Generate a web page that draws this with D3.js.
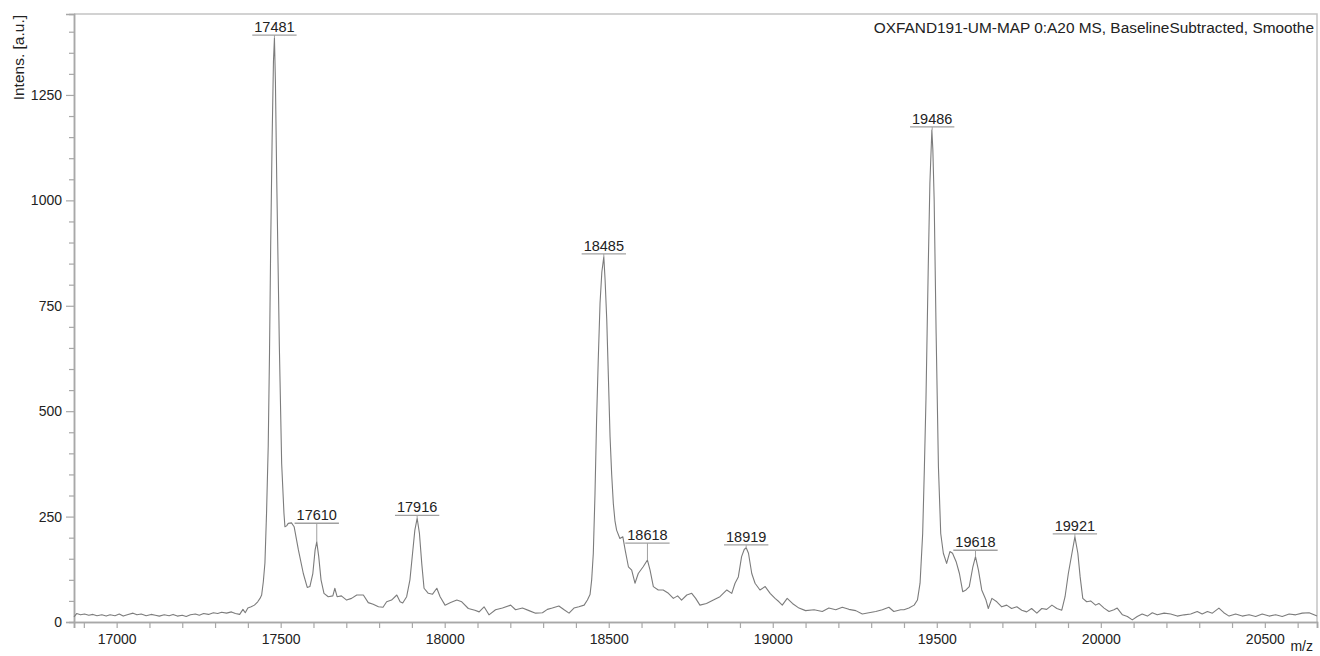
<!DOCTYPE html>
<html>
<head>
<meta charset="utf-8">
<script src="https://cdn.jsdelivr.net/npm/d3@7"></script>
<style>
  body { margin: 0; background: #fff; }
  svg text { font-family: "Liberation Sans", Arial, sans-serif; fill: #222; }
</style>
</head>
<body>
<div id="chart"></div>
<script>
// spectrum: m/z and intensity [a.u.]
const mz = [
  16870, 16878, 16890, 16902, 16915, 16928, 16940, 16955, 16968, 16980, 16995, 17008, 17020, 17035,
  17050, 17062, 17075, 17090, 17105, 17118, 17130, 17145, 17160, 17172, 17185, 17200, 17212, 17225,
  17240, 17252, 17265, 17280, 17295, 17308, 17320, 17335, 17350, 17362, 17375, 17385, 17392, 17400,
  17410, 17420, 17430, 17437, 17442, 17447, 17452, 17457, 17462, 17466, 17469.5, 17474, 17478, 17481,
  17484, 17488, 17492, 17496, 17503, 17510, 17513, 17518, 17523, 17533, 17541, 17554, 17569, 17581,
  17589, 17598, 17605, 17610, 17616, 17623, 17632, 17645, 17659, 17665, 17672, 17685, 17701, 17716,
  17732, 17752, 17767, 17782, 17798, 17812, 17823, 17838, 17854, 17864, 17872, 17884, 17894, 17902,
  17909, 17916, 17923, 17930, 17937, 17950, 17963, 17976, 17986, 18001, 18018, 18037, 18052, 18072,
  18092, 18105, 18120, 18135, 18155, 18176, 18201, 18216, 18237, 18257, 18277, 18298, 18313, 18328,
  18348, 18364, 18379, 18394, 18409, 18425, 18435, 18443, 18448, 18453, 18458, 18463, 18468, 18473.5,
  18479, 18485, 18489, 18494, 18499, 18504, 18509, 18514, 18519, 18524, 18534, 18543, 18550, 18560,
  18570, 18580, 18590, 18605, 18618, 18626, 18636, 18651, 18666, 18682, 18697, 18710, 18722, 18738,
  18753, 18765, 18778, 18798, 18819, 18839, 18860, 18875, 18885, 18895, 18905, 18913, 18919, 18926,
  18936, 18946, 18961, 18977, 18992, 19007, 19019, 19029, 19044, 19060, 19080, 19100, 19126, 19151,
  19171, 19192, 19212, 19232, 19253, 19273, 19293, 19314, 19334, 19354, 19369, 19390, 19400, 19415,
  19431, 19441, 19449, 19457, 19462, 19467, 19474, 19479, 19485, 19488, 19492, 19498, 19505, 19512,
  19520, 19530, 19540, 19548, 19559, 19569, 19579, 19589, 19599, 19610, 19618, 19627, 19637, 19650,
  19657, 19668, 19683, 19698, 19713, 19728, 19744, 19759, 19774, 19789, 19805, 19820, 19835, 19851,
  19866, 19881, 19891, 19901, 19912, 19921, 19930, 19937, 19945, 19957, 19969, 19984, 19994, 20010,
  20025, 20040, 20050, 20066, 20081, 20096, 20111, 20126, 20142, 20157, 20172, 20193, 20213, 20233,
  20254, 20274, 20294, 20309, 20325, 20340, 20360, 20375, 20391, 20411, 20431, 20452, 20472, 20492,
  20513, 20533, 20553, 20574, 20594, 20614, 20635, 20650, 20659
];
const intens = [
  12, 20, 17, 19, 16, 18, 15, 17, 14, 17, 15, 19, 14, 18,
  21, 17, 19, 15, 18, 16, 14, 17, 15, 18, 14, 16, 13, 17,
  19, 16, 20, 18, 22, 20, 23, 21, 24, 20, 18, 30, 22, 33,
  36, 40, 48, 56, 64, 95, 140, 260, 416, 640, 890, 1150, 1330, 1385,
  1280, 1048, 850, 653, 376, 258, 226, 228, 234, 235, 226, 171, 115, 82,
  84, 115, 171, 190, 155, 100, 68, 60, 62, 80, 60, 62, 52, 56,
  64, 64, 46, 42, 36, 35, 48, 52, 64, 48, 45, 60, 100, 163,
  218, 246, 210, 139, 80, 68, 66, 80, 60, 40, 46, 52, 48, 32,
  28, 24, 36, 17, 29, 33, 40, 29, 33, 27, 21, 22, 30, 33,
  38, 29, 21, 33, 36, 40, 52, 65, 100, 163, 300, 479, 620, 756,
  830, 866, 810, 716, 580, 440, 350, 281, 240, 218, 198, 202, 171, 131,
  123, 92, 115, 131, 147, 123, 84, 76, 76, 68, 56, 62, 52, 64,
  68, 56, 40, 44, 52, 60, 76, 68, 92, 107, 155, 172, 176, 163,
  115, 92, 76, 84, 68, 56, 48, 40, 56, 44, 33, 27, 29, 25,
  33, 29, 35, 30, 27, 19, 22, 25, 29, 35, 25, 29, 29, 33,
  40, 52, 92, 210, 360, 527, 843, 1041, 1167, 1120, 1001, 685, 368, 210,
  163, 139, 167, 163, 143, 115, 72, 76, 84, 131, 155, 123, 76, 52,
  32, 56, 48, 36, 40, 32, 36, 28, 24, 32, 21, 32, 30, 40,
  32, 28, 60, 115, 163, 202, 163, 107, 56, 48, 50, 40, 44, 33,
  25, 29, 33, 17, 13, 5, 13, 19, 14, 22, 17, 21, 19, 14,
  17, 19, 25, 19, 25, 21, 33, 22, 14, 19, 14, 17, 13, 19,
  14, 17, 13, 19, 17, 21, 22, 17, 14
];

// annotated peaks
const peakMz = [17481, 17610, 17916, 18485, 18618, 18919, 19486, 19618, 19921];
const peakIntens = [1385, 190, 246, 866, 147, 176, 1167, 155, 202];

const yMajor = [0, 250, 500, 750, 1000, 1250];
const xMajor = [17000, 17500, 18000, 18500, 19000, 19500, 20000, 20500];
const title = "OXFAND191-UM-MAP 0:A20 MS, BaselineSubtracted, Smoothe";

const W = 1320, H = 656;
const margin = { top: 14, right: 3, bottom: 34, left: 74 };
const axisColor = "#a8a8a8";

const svg = d3.select("#chart").append("svg").attr("width", W).attr("height", H);

const x = d3.scaleLinear().domain([16870, 20659]).range([margin.left, W - margin.right]);
const y = d3.scaleLinear().domain([0, 1442]).range([H - margin.bottom, margin.top]);

const yMinor = d3.range(50, 1442, 50).filter((v) => yMajor.indexOf(v) < 0);
const xMinor = d3.range(16900, 20659, 100).filter((v) => xMajor.indexOf(v) < 0);

/* FRAME */
svg.append("path")
  .attr("d", `M${x.range()[0]},${y.range()[1]}H${x.range()[1]}V${y.range()[0]}`)
  .attr("fill", "none")
  .attr("stroke", "#c4c4c4")
  .attr("stroke-width", 1.5);

/* AXES */
function styleAxis(g) {
  g.selectAll("path.domain").attr("stroke", axisColor).attr("stroke-width", 1.5);
  g.selectAll(".tick line").attr("stroke", axisColor).attr("stroke-width", 1.2);
  g.selectAll(".tick text").attr("fill", "#222").style("font-size", "14px")
    .style("font-family", '"Liberation Sans", Arial, sans-serif');
}

svg.append("g")
  .attr("transform", `translate(${margin.left},0)`)
  .call(d3.axisLeft(y).tickValues(yMinor).tickSize(5).tickFormat(""))
  .call(styleAxis);
svg.append("g")
  .attr("transform", `translate(${margin.left},0)`)
  .call(d3.axisLeft(y).tickValues(yMajor).tickSize(8).tickPadding(4).tickFormat(d3.format("d")))
  .call(styleAxis);

svg.append("g")
  .attr("transform", `translate(0,${y(0)})`)
  .call(d3.axisBottom(x).tickValues(xMinor).tickSize(6).tickFormat(""))
  .call(styleAxis);
svg.append("g")
  .attr("transform", `translate(0,${y(0)})`)
  .call(d3.axisBottom(x).tickValues(xMajor).tickSize(6).tickPadding(6).tickFormat(d3.format("d")))
  .call(styleAxis);

/* LABELS */
svg.append("text")
  .attr("transform", `translate(24,${margin.top + 1}) rotate(-90)`)
  .attr("text-anchor", "end")
  .style("font-size", "15.5px")
  .text("Intens. [a.u.]");

svg.append("text")
  .attr("x", W - 7)
  .attr("y", 651)
  .attr("text-anchor", "end")
  .style("font-size", "14px")
  .text("m/z");

svg.append("text")
  .attr("x", W - 6)
  .attr("y", 33)
  .attr("text-anchor", "end")
  .style("font-size", "15.4px")
  .text(title);

/* SPECTRUM */
const points = mz.map((m, i) => [m, intens[i]]);
svg.append("path")
  .datum(points)
  .attr("fill", "none")
  .attr("stroke", "#7c7c7c")
  .attr("stroke-width", 1.1)
  .attr("stroke-linejoin", "round")
  .attr("d", d3.line().x((d) => x(d[0])).y((d) => y(d[1])));

/* PEAK LABELS */
// curve value at any m/z (linear between read points)
function curveAt(m) {
  const i = d3.bisectLeft(mz, m);
  if (i <= 0) return intens[0];
  if (i >= mz.length) return intens[mz.length - 1];
  const t = (m - mz[i - 1]) / (mz[i] - mz[i - 1]);
  return intens[i - 1] + t * (intens[i] - intens[i - 1]);
}

const halfSpan = 70; // label box half width in m/z
const peaks = svg.append("g").attr("class", "peaks");
peakMz.forEach((m, i) => {
  let level = Math.max(curveAt(m - halfSpan), curveAt(m + halfSpan));
  mz.forEach((v, j) => {
    if (v >= m - halfSpan && v <= m + halfSpan) level = Math.max(level, intens[j]);
  });
  const ly = y(level) - 3;
  const cx = x(m);
  const txt = peaks.append("text")
    .attr("x", cx)
    .attr("y", ly - 3)
    .attr("text-anchor", "middle")
    .style("font-size", "14.5px")
    .text(String(m));
  const w = txt.node().getComputedTextLength();
  peaks.append("line")
    .attr("x1", cx - w / 2 - 2).attr("x2", cx + w / 2 + 2)
    .attr("y1", ly).attr("y2", ly)
    .attr("stroke", "#a0a0a0").attr("stroke-width", 1.3);
  peaks.append("line")
    .attr("x1", cx).attr("x2", cx)
    .attr("y1", ly).attr("y2", y(peakIntens[i]))
    .attr("stroke", "#a0a0a0").attr("stroke-width", 1);
});
</script>
</body>
</html>
